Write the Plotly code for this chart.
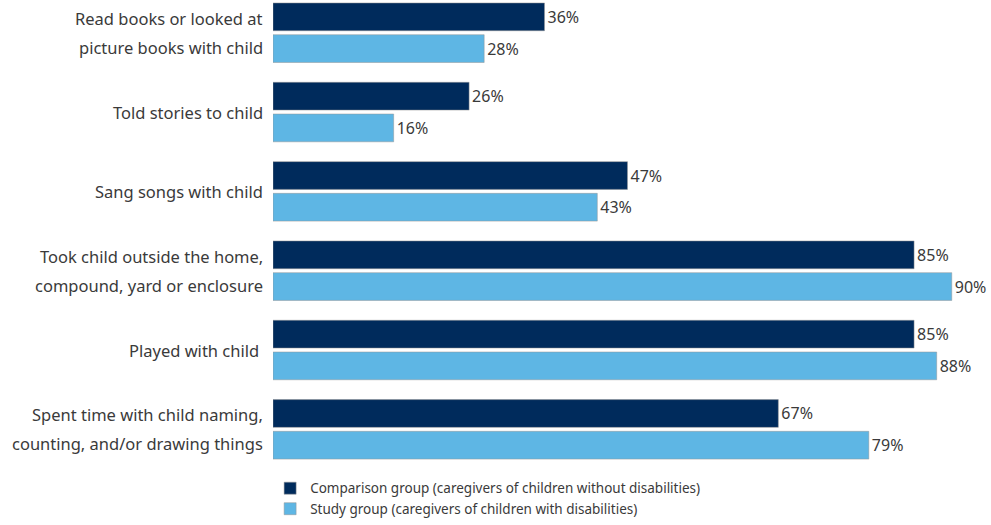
import plotly.graph_objects as go

categories = [
    "Read books or looked at<br>picture books with child",
    "Told stories to child",
    "Sang songs with child",
    "Took child outside the home,<br>compound, yard or enclosure",
    "Played with child ",
    "Spent time with child naming,<br>counting, and/or drawing things",
]
comparison = [36, 26, 47, 85, 85, 67]
study = [28, 16, 43, 90, 88, 79]

series_names = [
    "Comparison group (caregivers of children without disabilities)",
    "Study group (caregivers of children with disabilities)",
]
colors = ["#002B5C", "#5EB6E4"]
text_color = "#3a3a3a"

fig = go.Figure()
for name, vals, col in zip(series_names, [comparison, study], colors):
    fig.add_trace(go.Bar(
        y=categories, x=vals, orientation="h", name=name,
        marker=dict(color=col, line=dict(color="rgba(150,150,150,0.5)", width=1)),
        text=[f"{v}%" for v in vals], textposition="outside",
        textfont=dict(size=16, color=text_color),
        cliponaxis=False,
    ))

# Category labels drawn as one annotation per line for wider line spacing
line_gap = 29
for cat in categories:
    lines = cat.split("<br>")
    n = len(lines)
    for k, line in enumerate(lines):
        shift = ((n - 1) / 2 - k) * line_gap
        fig.add_annotation(
            x=0, xref="paper", y=cat, yref="y",
            text=line, showarrow=False, xanchor="right", yanchor="middle",
            xshift=-8, yshift=shift,
            font=dict(size=16.5, color=text_color),
        )

fig.update_layout(
    width=991, height=525,
    margin=dict(l=273, r=0, t=0, b=50),
    barmode="group", bargap=0.2, bargroupgap=0.125,
    plot_bgcolor="white", paper_bgcolor="white",
    font=dict(family="Noto Sans", color=text_color),
    showlegend=True,
    legend=dict(x=-0.004, y=-0.004, xanchor="left", yanchor="top",
                font=dict(size=13.5, color=text_color), traceorder="normal"),
)
fig.update_xaxes(range=[0, 95.2], visible=False)
fig.update_yaxes(range=[5.525, -0.4125], showgrid=False, ticks="",
                 showticklabels=False, showline=False)

fig.write_html("out.html")
